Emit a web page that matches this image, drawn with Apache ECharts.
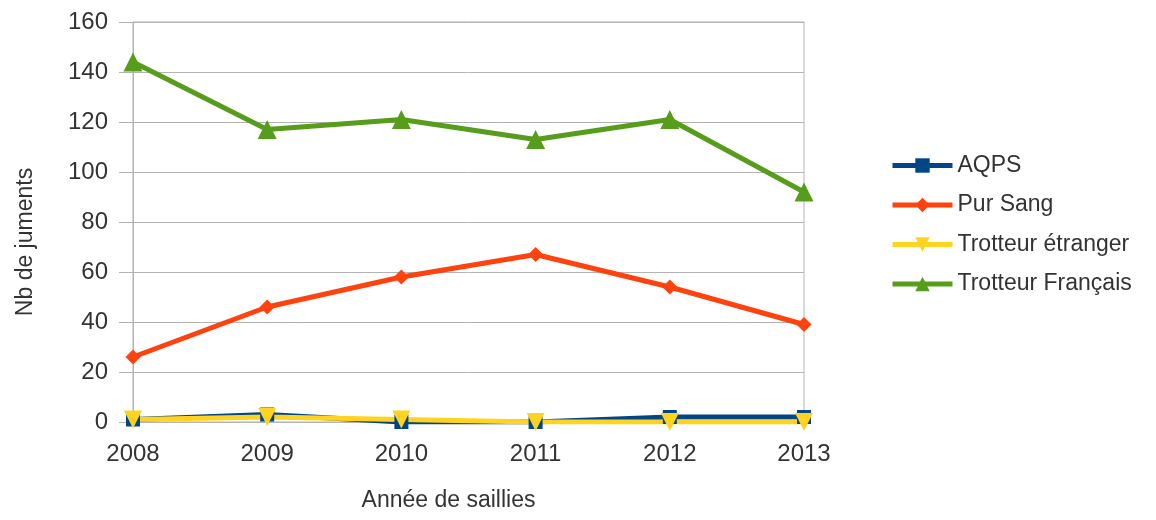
<!DOCTYPE html>
<html>
<head>
<meta charset="utf-8">
<script src="https://cdn.jsdelivr.net/npm/echarts@6/dist/echarts.min.js"></script>
<style>
  html, body { margin: 0; padding: 0; background: #fff; }
  #chart { width: 1156px; height: 520px; }
</style>
</head>
<body>
<div id="chart"></div>
<script>
// data
const years = ['2008', '2009', '2010', '2011', '2012', '2013'];
const aqps = [1, 3, 0, 0, 2, 2];
const purSang = [26, 46, 58, 67, 54, 39];
const trotteurEtranger = [1, 2, 1, 0, 0, 0];
const trotteurFrancais = [144, 117, 121, 113, 121, 92];

const font = 'Liberation Sans, Arial, sans-serif';
const gridColor = '#b3b3b3';

const chart = echarts.init(document.getElementById('chart'));

function line(name, data, color, symbol, size, rotate) {
    return {
        name: name,
        type: 'line',
        data: data,
        symbol: symbol,
        symbolSize: size,
        symbolRotate: rotate || 0,
        lineStyle: { width: 5, color: color },
        itemStyle: { color: color },
        emphasis: { disabled: true },
        animation: false
    };
}

chart.setOption({
    textStyle: { fontFamily: font },
    grid: {
        left: 133, right: 352, top: 22, bottom: 98,
        show: true, borderColor: gridColor, borderWidth: 1
    },
    legend: {
        orient: 'vertical',
        left: 885,
        top: 149,
        itemWidth: 60,
        itemHeight: 18,
        itemGap: 16.5,
        lineStyle: { width: 5 },
        textStyle: { fontSize: 23, color: '#333', fontFamily: font },
        data: ['AQPS', 'Pur Sang', 'Trotteur étranger', 'Trotteur Français']
    },
    xAxis: {
        type: 'category',
        data: years,
        boundaryGap: false,
        name: 'Année de saillies',
        nameLocation: 'middle',
        nameGap: 67,
        nameTextStyle: { fontSize: 23, color: '#333', padding: [0, 40, 0, 0] },
        axisLine: { show: false },
        axisTick: { show: false },
        axisLabel: { fontSize: 24, color: '#333', margin: 20 },
        splitLine: { show: false }
    },
    yAxis: {
        type: 'value',
        min: 0,
        max: 160,
        interval: 20,
        name: 'Nb de juments',
        nameLocation: 'middle',
        nameGap: 96,
        nameTextStyle: { fontSize: 23, color: '#333', padding: [0, 40, 0, 0] },
        axisLine: { show: true, lineStyle: { color: gridColor } },
        axisTick: { show: true, length: 14, lineStyle: { color: gridColor } },
        axisLabel: { fontSize: 24, color: '#333', margin: 25 },
        splitLine: { lineStyle: { color: gridColor, width: 1 } }
    },
    series: [
        line('AQPS', aqps, '#004586', 'rect', 14),
        line('Pur Sang', purSang, '#ff420e', 'diamond', 15),
        line('Trotteur étranger', trotteurEtranger, '#ffd320', 'triangle', 18, 180),
        line('Trotteur Français', trotteurFrancais, '#579d1c', 'triangle', 19)
    ]
});
</script>
</body>
</html>
